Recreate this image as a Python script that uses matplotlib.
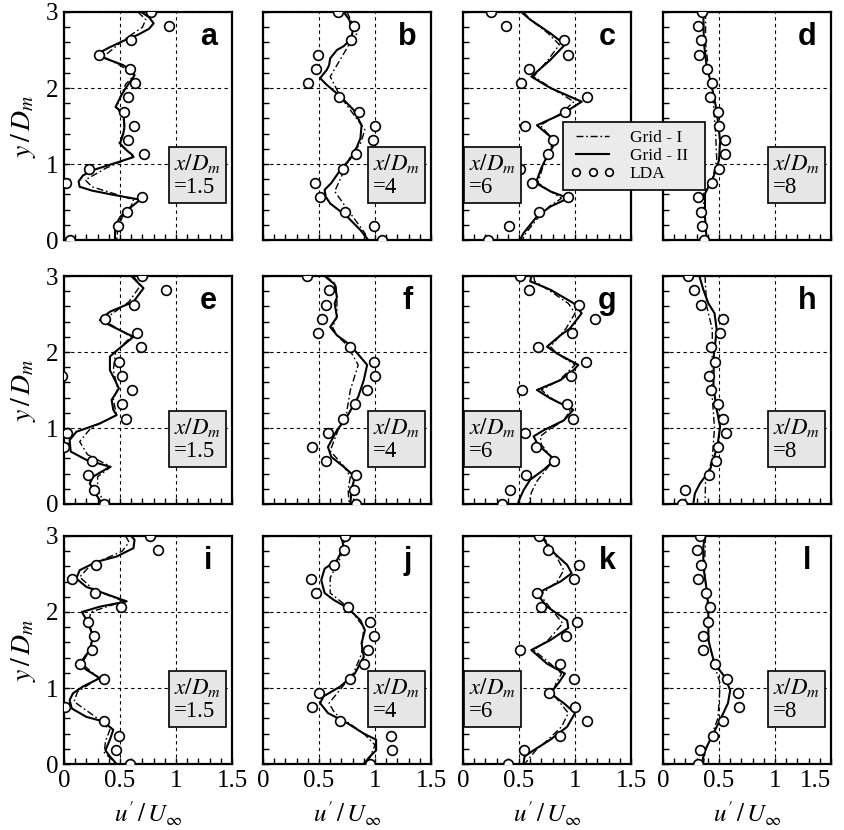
import numpy as np
import matplotlib.pyplot as plt
from matplotlib.lines import Line2D
from matplotlib.ticker import MultipleLocator

plt.rcParams['font.family'] = 'Liberation Serif'
plt.rcParams['mathtext.fontset'] = 'stix'

# LDA measurement heights y/Dm (top to bottom)
y_lda = np.linspace(3, 0, 17)

# x/Dm station of each column
stations = ['1.5', '4', '6', '8']
letters = 'abcdefghijkl'

# ---- panel a
a_lda = [0.78, 0.94, 0.60, 0.31, 0.59, 0.63, 0.57, 0.54, 0.625, 0.575, 0.71, 0.226, 0.015, 0.70, 0.56, 0.485, 0.054]
a_g2_y = [3.0, 2.93, 2.85, 2.78, 2.7, 2.62, 2.53, 2.46, 2.4, 2.3, 2.2, 2.17, 2.1, 2.02, 1.9, 1.75, 1.67, 1.5, 1.4, 1.27, 1.18, 1.12, 1.09, 1.0, 0.92, 0.85, 0.77, 0.7, 0.65, 0.6, 0.53, 0.47, 0.39, 0.3, 0.2, 0.1, 0.0]
a_g2_x = [0.69, 0.76, 0.80, 0.76, 0.66, 0.53, 0.40, 0.31, 0.35, 0.53, 0.62, 0.63, 0.6, 0.56, 0.51, 0.46, 0.53, 0.54, 0.53, 0.5, 0.56, 0.61, 0.62, 0.43, 0.26, 0.17, 0.13, 0.14, 0.25, 0.42, 0.68, 0.63, 0.56, 0.5, 0.465, 0.455, 0.455]
a_g1_y = [3.0, 2.9, 2.8, 2.65, 2.41, 2.3, 2.17, 2.05, 1.75, 1.6, 1.45, 1.27, 1.1, 0.95, 0.79, 0.7, 0.53, 0.45, 0.3, 0.15, 0.0]
a_g1_x = [0.66, 0.73, 0.70, 0.55, 0.35, 0.5, 0.63, 0.55, 0.47, 0.53, 0.54, 0.49, 0.62, 0.38, 0.19, 0.25, 0.62, 0.6, 0.52, 0.48, 0.47]

# ---- panel b
b_lda = [0.667, 0.81, 0.79, 0.49, 0.47, 0.40, 0.68, 0.86, 1.0, 0.98, 0.83, 0.71, 0.46, 0.51, 0.735, 0.99, 1.06]
b_g2_y = [3.0, 2.9, 2.75, 2.65, 2.55, 2.5, 2.39, 2.3, 2.24, 2.13, 2.04, 1.89, 1.71, 1.51, 1.34, 1.23, 1.07, 0.92, 0.75, 0.66, 0.57, 0.48, 0.31, 0.13, 0.0]
b_g2_x = [0.72, 0.77, 0.80, 0.79, 0.72, 0.66, 0.6, 0.59, 0.57, 0.51, 0.57, 0.69, 0.81, 0.88, 0.87, 0.84, 0.78, 0.69, 0.61, 0.55, 0.56, 0.6, 0.75, 0.87, 0.94]
b_g1_y = [3.0, 2.72, 2.6, 2.4, 2.15, 1.89, 1.63, 1.45, 1.27, 1.1, 0.9, 0.64, 0.35, 0.09, 0.0]
b_g1_x = [0.75, 0.84, 0.78, 0.7, 0.6, 0.69, 0.82, 0.91, 0.87, 0.78, 0.72, 0.64, 0.78, 0.91, 0.93]

# ---- panel c
c_lda = [0.25, 0.38, 0.90, 0.94, 0.59, 0.52, 1.11, 0.91, 0.55, 0.80, 0.76, 0.51, 0.62, 0.935, 0.68, 0.41, 0.22]
c_g2_y = [3.0, 2.9, 2.72, 2.57, 2.37, 2.15, 2.0, 1.82, 1.67, 1.51, 1.36, 1.27, 1.1, 0.95, 0.75, 0.64, 0.55, 0.44, 0.31, 0.09, 0.0]
c_g2_x = [0.52, 0.6, 0.78, 0.91, 0.78, 0.61, 0.78, 1.06, 0.9, 0.66, 0.78, 0.82, 0.75, 0.7, 0.65, 0.78, 0.94, 0.78, 0.66, 0.54, 0.51]
c_g1_y = [3.0, 2.9, 2.72, 2.57, 2.37, 2.15, 2.0, 1.82, 1.67, 1.51, 1.36, 1.27, 1.1, 0.95, 0.75, 0.64, 0.55, 0.44, 0.31, 0.09, 0.0]
c_g1_x = [0.54, 0.6, 0.76, 0.86, 0.76, 0.63, 0.79, 0.99, 0.88, 0.69, 0.78, 0.8, 0.75, 0.71, 0.67, 0.78, 0.88, 0.77, 0.68, 0.56, 0.53]

# ---- panel d
d_lda = [0.345, 0.315, 0.34, 0.325, 0.39, 0.44, 0.42, 0.49, 0.50, 0.55, 0.55, 0.50, 0.44, 0.315, 0.34, 0.345, 0.37]
d_g2_y = [3.0, 2.6, 2.28, 2.06, 1.7, 1.3, 1.05, 0.83, 0.61, 0.3, 0.0]
d_g2_x = [0.36, 0.365, 0.39, 0.43, 0.48, 0.51, 0.5, 0.45, 0.375, 0.375, 0.39]
d_g1_y = [3.0, 2.6, 2.2, 1.8, 1.4, 1.05, 0.8, 0.6, 0.3, 0.0]
d_g1_x = [0.38, 0.38, 0.41, 0.45, 0.47, 0.48, 0.44, 0.36, 0.37, 0.39]

# ---- panel e
e_lda = [0.70, 0.91, 0.625, 0.37, 0.65, 0.69, 0.49, 0.515, 0.61, 0.52, 0.55, 0.024, 0.0, 0.25, 0.215, 0.27, 0.36]
e_extra_x = [-0.02]
e_extra_y = [1.6875]
e_g2_y = [3.0, 2.84, 2.66, 2.53, 2.42, 2.33, 2.2, 2.09, 2.0, 1.94, 1.76, 1.63, 1.52, 1.37, 1.24, 1.17, 1.06, 0.95, 0.84, 0.69, 0.58, 0.49, 0.36, 0.27, 0.14, 0.0]
e_g2_x = [0.6, 0.71, 0.62, 0.41, 0.32, 0.44, 0.62, 0.53, 0.455, 0.41, 0.41, 0.455, 0.49, 0.425, 0.44, 0.47, 0.32, 0.11, 0.05, 0.06, 0.2, 0.41, 0.26, 0.23, 0.28, 0.34]
e_g1_y = [3.0, 2.87, 2.66, 2.42, 2.2, 2.0, 1.76, 1.52, 1.37, 1.17, 1.0, 0.82, 0.65, 0.49, 0.36, 0.2, 0.0]
e_g1_x = [0.62, 0.68, 0.58, 0.35, 0.6, 0.46, 0.44, 0.48, 0.44, 0.47, 0.24, 0.14, 0.21, 0.42, 0.3, 0.3, 0.36]

# ---- panel f
f_lda = [0.39, 0.59, 0.56, 0.53, 0.49, 0.78, 0.99, 1.0, 0.93, 0.82, 0.71, 0.58, 0.435, 0.56, 0.83, 0.815, 0.83]
f_g2_y = [3.0, 2.89, 2.72, 2.64, 2.46, 2.33, 2.22, 2.09, 1.83, 1.63, 1.41, 1.15, 0.97, 0.75, 0.62, 0.49, 0.36, 0.18, 0.0]
f_g2_x = [0.55, 0.64, 0.66, 0.64, 0.66, 0.6, 0.66, 0.78, 0.93, 0.9, 0.85, 0.75, 0.66, 0.58, 0.61, 0.72, 0.82, 0.79, 0.78]
f_g1_y = [3.0, 2.89, 2.72, 2.46, 2.33, 2.22, 2.09, 1.83, 1.5, 1.15, 0.97, 0.7, 0.5, 0.36, 0.18, 0.0]
f_g1_x = [0.56, 0.65, 0.66, 0.66, 0.62, 0.66, 0.75, 0.85, 0.78, 0.74, 0.67, 0.6, 0.72, 0.78, 0.76, 0.77]

# ---- panel g
g_lda = [0.51, 0.59, 1.04, 1.18, 0.97, 0.67, 1.10, 0.96, 0.53, 0.93, 0.98, 0.55, 0.65, 0.815, 0.56, 0.42, 0.345]
g_g2_y = [3.0, 2.93, 2.82, 2.64, 2.51, 2.31, 2.22, 2.07, 1.98, 1.83, 1.76, 1.63, 1.5, 1.39, 1.28, 1.24, 1.1, 0.97, 0.89, 0.78, 0.58, 0.45, 0.32, 0.18, 0.05, 0.0]
g_g2_x = [0.61, 0.6, 0.78, 0.99, 1.06, 0.955, 0.87, 0.75, 0.84, 1.03, 0.985, 0.87, 0.66, 0.78, 0.93, 0.985, 0.9, 0.72, 0.63, 0.67, 0.82, 0.72, 0.6, 0.54, 0.5, 0.49]
g_g1_y = [3.0, 2.93, 2.82, 2.64, 2.51, 2.31, 2.07, 1.98, 1.83, 1.63, 1.5, 1.39, 1.24, 1.1, 0.97, 0.89, 0.78, 0.58, 0.45, 0.3, 0.15, 0.0]
g_g1_x = [0.63, 0.64, 0.76, 0.94, 1.0, 0.92, 0.78, 0.84, 1.0, 0.86, 0.7, 0.79, 0.96, 0.9, 0.76, 0.69, 0.7, 0.81, 0.74, 0.66, 0.61, 0.59]

# ---- panel h
h_lda = [0.22, 0.28, 0.34, 0.54, 0.51, 0.425, 0.465, 0.415, 0.43, 0.49, 0.54, 0.56, 0.49, 0.47, 0.415, 0.2, 0.17]
h_g2_y = [3.0, 2.82, 2.64, 2.51, 2.29, 1.98, 1.54, 1.24, 1.02, 0.75, 0.45, 0.27, 0.14, 0.0]
h_g2_x = [0.325, 0.36, 0.405, 0.46, 0.48, 0.455, 0.45, 0.48, 0.51, 0.485, 0.42, 0.33, 0.285, 0.27]
h_g1_y = [3.0, 2.6, 2.3, 2.0, 1.5, 1.0, 0.6, 0.3, 0.0]
h_g1_x = [0.375, 0.39, 0.44, 0.44, 0.435, 0.46, 0.44, 0.38, 0.375]

# ---- panel i
i_lda = [0.77, 0.84, 0.285, 0.07, 0.28, 0.51, 0.21, 0.265, 0.25, 0.14, 0.36, np.nan, 0.01, 0.36, 0.49, 0.46, 0.59]
i_g2_y = [3.0, 2.95, 2.84, 2.73, 2.66, 2.55, 2.44, 2.33, 2.25, 2.14, 2.07, 2.0, 1.87, 1.68, 1.5, 1.32, 1.24, 1.13, 1.02, 0.93, 0.84, 0.73, 0.62, 0.56, 0.45, 0.32, 0.18, 0.1, 0.0]
i_g2_x = [0.6, 0.63, 0.62, 0.47, 0.29, 0.14, 0.11, 0.2, 0.35, 0.56, 0.32, 0.16, 0.21, 0.26, 0.23, 0.14, 0.2, 0.32, 0.17, 0.08, 0.05, 0.07, 0.2, 0.35, 0.44, 0.41, 0.37, 0.41, 0.47]
i_g1_y = [3.0, 2.92, 2.8, 2.62, 2.46, 2.3, 2.14, 2.0, 1.87, 1.68, 1.5, 1.32, 1.13, 0.95, 0.82, 0.6, 0.45, 0.3, 0.15, 0.0]
i_g1_x = [0.55, 0.58, 0.52, 0.24, 0.14, 0.26, 0.53, 0.24, 0.22, 0.26, 0.23, 0.16, 0.31, 0.12, 0.09, 0.3, 0.41, 0.37, 0.36, 0.47]

# ---- panel j
j_lda = [0.73, 0.72, 0.63, 0.425, 0.47, 0.76, 0.955, 0.99, 0.94, 0.9, 0.78, 0.5, 0.435, 0.69, 1.14, 1.155, 0.955]
j_g2_y = [3.0, 2.85, 2.68, 2.57, 2.42, 2.25, 2.16, 2.05, 1.89, 1.76, 1.59, 1.41, 1.19, 1.02, 0.89, 0.8, 0.67, 0.54, 0.4, 0.32, 0.18, 0.1, 0.0]
j_g2_x = [0.7, 0.72, 0.66, 0.55, 0.52, 0.55, 0.63, 0.76, 0.87, 0.91, 0.88, 0.9, 0.82, 0.69, 0.54, 0.51, 0.58, 0.75, 0.9, 1.01, 1.01, 0.955, 0.9]
j_g1_y = [3.0, 2.85, 2.68, 2.45, 2.25, 2.05, 1.8, 1.45, 1.2, 1.0, 0.8, 0.67, 0.4, 0.25, 0.1, 0.0]
j_g1_x = [0.72, 0.73, 0.68, 0.6, 0.6, 0.77, 0.9, 0.88, 0.81, 0.7, 0.59, 0.64, 0.9, 1.0, 0.96, 0.92]

# ---- panel k
k_lda = [0.68, 0.756, 1.04, 0.99, 0.66, 0.70, 1.02, 0.92, 0.51, 0.87, 0.99, 0.77, 1.0, 1.11, 0.87, 0.545, 0.405]
k_g2_y = [3.0, 2.82, 2.62, 2.51, 2.4, 2.29, 2.22, 2.07, 1.89, 1.79, 1.63, 1.5, 1.32, 1.19, 1.06, 0.93, 0.8, 0.67, 0.49, 0.32, 0.18, 0.1, 0.0]
k_g2_x = [0.7, 0.78, 0.93, 0.97, 0.87, 0.72, 0.67, 0.75, 0.93, 0.94, 0.78, 0.61, 0.75, 0.91, 0.85, 0.78, 0.9, 1.0, 0.93, 0.78, 0.63, 0.55, 0.54]
k_g1_y = [3.0, 2.82, 2.55, 2.4, 2.22, 2.07, 1.85, 1.63, 1.5, 1.32, 1.19, 1.06, 0.93, 0.67, 0.49, 0.32, 0.18, 0.0]
k_g1_x = [0.71, 0.8, 0.9, 0.84, 0.69, 0.77, 0.89, 0.76, 0.63, 0.78, 0.88, 0.83, 0.8, 0.94, 0.88, 0.76, 0.65, 0.55]

# ---- panel l
l_lda = [0.33, 0.30, 0.34, 0.31, 0.385, 0.42, 0.40, 0.36, 0.355, 0.46, 0.57, 0.67, 0.68, 0.54, 0.45, 0.33, 0.31]
l_g2_y = [3.0, 2.86, 2.6, 2.29, 2.07, 1.63, 1.32, 1.15, 0.97, 0.8, 0.58, 0.36, 0.18, 0.0]
l_g2_x = [0.375, 0.36, 0.36, 0.39, 0.405, 0.405, 0.46, 0.55, 0.6, 0.58, 0.51, 0.435, 0.375, 0.345]
l_g1_y = [3.0, 2.6, 2.0, 1.6, 1.3, 1.06, 0.8, 0.6, 0.36, 0.18, 0.0]
l_g1_x = [0.38, 0.37, 0.4, 0.41, 0.46, 0.51, 0.5, 0.49, 0.43, 0.38, 0.36]

panels = [
    (a_g1_x, a_g1_y, a_g2_x, a_g2_y, a_lda),
    (b_g1_x, b_g1_y, b_g2_x, b_g2_y, b_lda),
    (c_g1_x, c_g1_y, c_g2_x, c_g2_y, c_lda),
    (d_g1_x, d_g1_y, d_g2_x, d_g2_y, d_lda),
    (e_g1_x, e_g1_y, e_g2_x, e_g2_y, e_lda),
    (f_g1_x, f_g1_y, f_g2_x, f_g2_y, f_lda),
    (g_g1_x, g_g1_y, g_g2_x, g_g2_y, g_lda),
    (h_g1_x, h_g1_y, h_g2_x, h_g2_y, h_lda),
    (i_g1_x, i_g1_y, i_g2_x, i_g2_y, i_lda),
    (j_g1_x, j_g1_y, j_g2_x, j_g2_y, j_lda),
    (k_g1_x, k_g1_y, k_g2_x, k_g2_y, k_lda),
    (l_g1_x, l_g1_y, l_g2_x, l_g2_y, l_lda),
]

W, H = 844, 830
col_left = [64, 263, 463, 663]
row_bottom = [240, 504, 764]
aw, ah = 168, 228

dashdot = (0, (5, 2, 1.2, 2))
circ = dict(ls='none', marker='o', ms=7, mfc='white', mec='black', mew=1.2)

fig = plt.figure(figsize=(W / 100, H / 100), dpi=100)
for n, (g1x, g1y, g2x, g2y, lda) in enumerate(panels):
    r, c = divmod(n, 4)
    ax = fig.add_axes([col_left[c] / W, 1 - row_bottom[r] / H, aw / W, ah / H])
    ax.plot(g1x, g1y, color='black', lw=1.0, ls=dashdot)
    ax.plot(g2x, g2y, color='black', lw=1.5)
    ax.plot(lda, y_lda, zorder=3, **circ)
    if letters[n] == 'e':
        ax.plot(e_extra_x, e_extra_y, zorder=3, **circ)

    ax.set_xlim(0, 1.5)
    ax.set_ylim(0, 3)
    ax.set_xticks([0, 0.5, 1, 1.5])
    ax.set_yticks([0, 1, 2, 3])
    ax.xaxis.set_minor_locator(MultipleLocator(0.1))
    ax.yaxis.set_minor_locator(MultipleLocator(0.2))
    ax.tick_params(which='both', direction='in', top=False, right=False,
                   length=4, width=1, labelsize=18)
    ax.tick_params(axis='x', pad=4)
    ax.tick_params(axis='y', pad=4)
    ax.grid(True, which='major', color='black', ls=(0, (3, 3)), lw=0.8)
    for s in ax.spines.values():
        s.set_linewidth(1.6)

    if r == 2:
        ax.set_xticklabels(['0', '0.5', '1', '1.5'])
        ax.set_xlabel(r"$u'\,/\,U_\infty$", fontsize=18, labelpad=6)
        if c == 3:
            # last label would run off the right edge
            ax.get_xticklabels()[-1].set_horizontalalignment('right')
    else:
        ax.tick_params(labelbottom=False)
    if c == 0:
        ax.set_ylabel(r'$y\,/\,D_m$', fontsize=20, labelpad=6)
    else:
        ax.tick_params(labelleft=False)

    ax.text(0.86, 0.855, letters[n], transform=ax.transAxes, ha='center',
            va='baseline', fontsize=22, fontweight='bold', family='Liberation Sans')

    box = dict(boxstyle='square,pad=0.22', fc='#e6e6e6', ec='black', lw=1.2)
    label = r'$x/D_m$' + '\n=' + stations[c]
    if c == 2:
        ax.text(0.035, 0.285, label, transform=ax.transAxes, ha='left', va='center',
                fontsize=16.5, linespacing=1.15, multialignment='left', bbox=box)
    else:
        ax.text(0.935, 0.285, label, transform=ax.transAxes, ha='right', va='center',
                fontsize=16.5, linespacing=1.15, multialignment='left', bbox=box)

handles = [Line2D([], [], color='black', lw=1.0, ls=dashdot),
           Line2D([], [], color='black', lw=1.5),
           Line2D([], [], ls='none', marker='o', ms=5.5, mfc='white', mec='black', mew=1.2)]
leg = fig.legend(handles, ['Grid - I', 'Grid - II', 'LDA'], loc='upper left',
                 bbox_to_anchor=(563 / W, 1 - 183 / H, 142 / W, 61 / H), mode='expand',
                 fontsize=12.5, numpoints=3,
                 fancybox=False, edgecolor='black', facecolor='#ebebeb', framealpha=1,
                 borderpad=0.45, labelspacing=0.1, handlelength=2.5, handletextpad=0.9,
                 borderaxespad=0)
leg.get_frame().set_linewidth(1.2)

fig.savefig('out.png', dpi=100)
